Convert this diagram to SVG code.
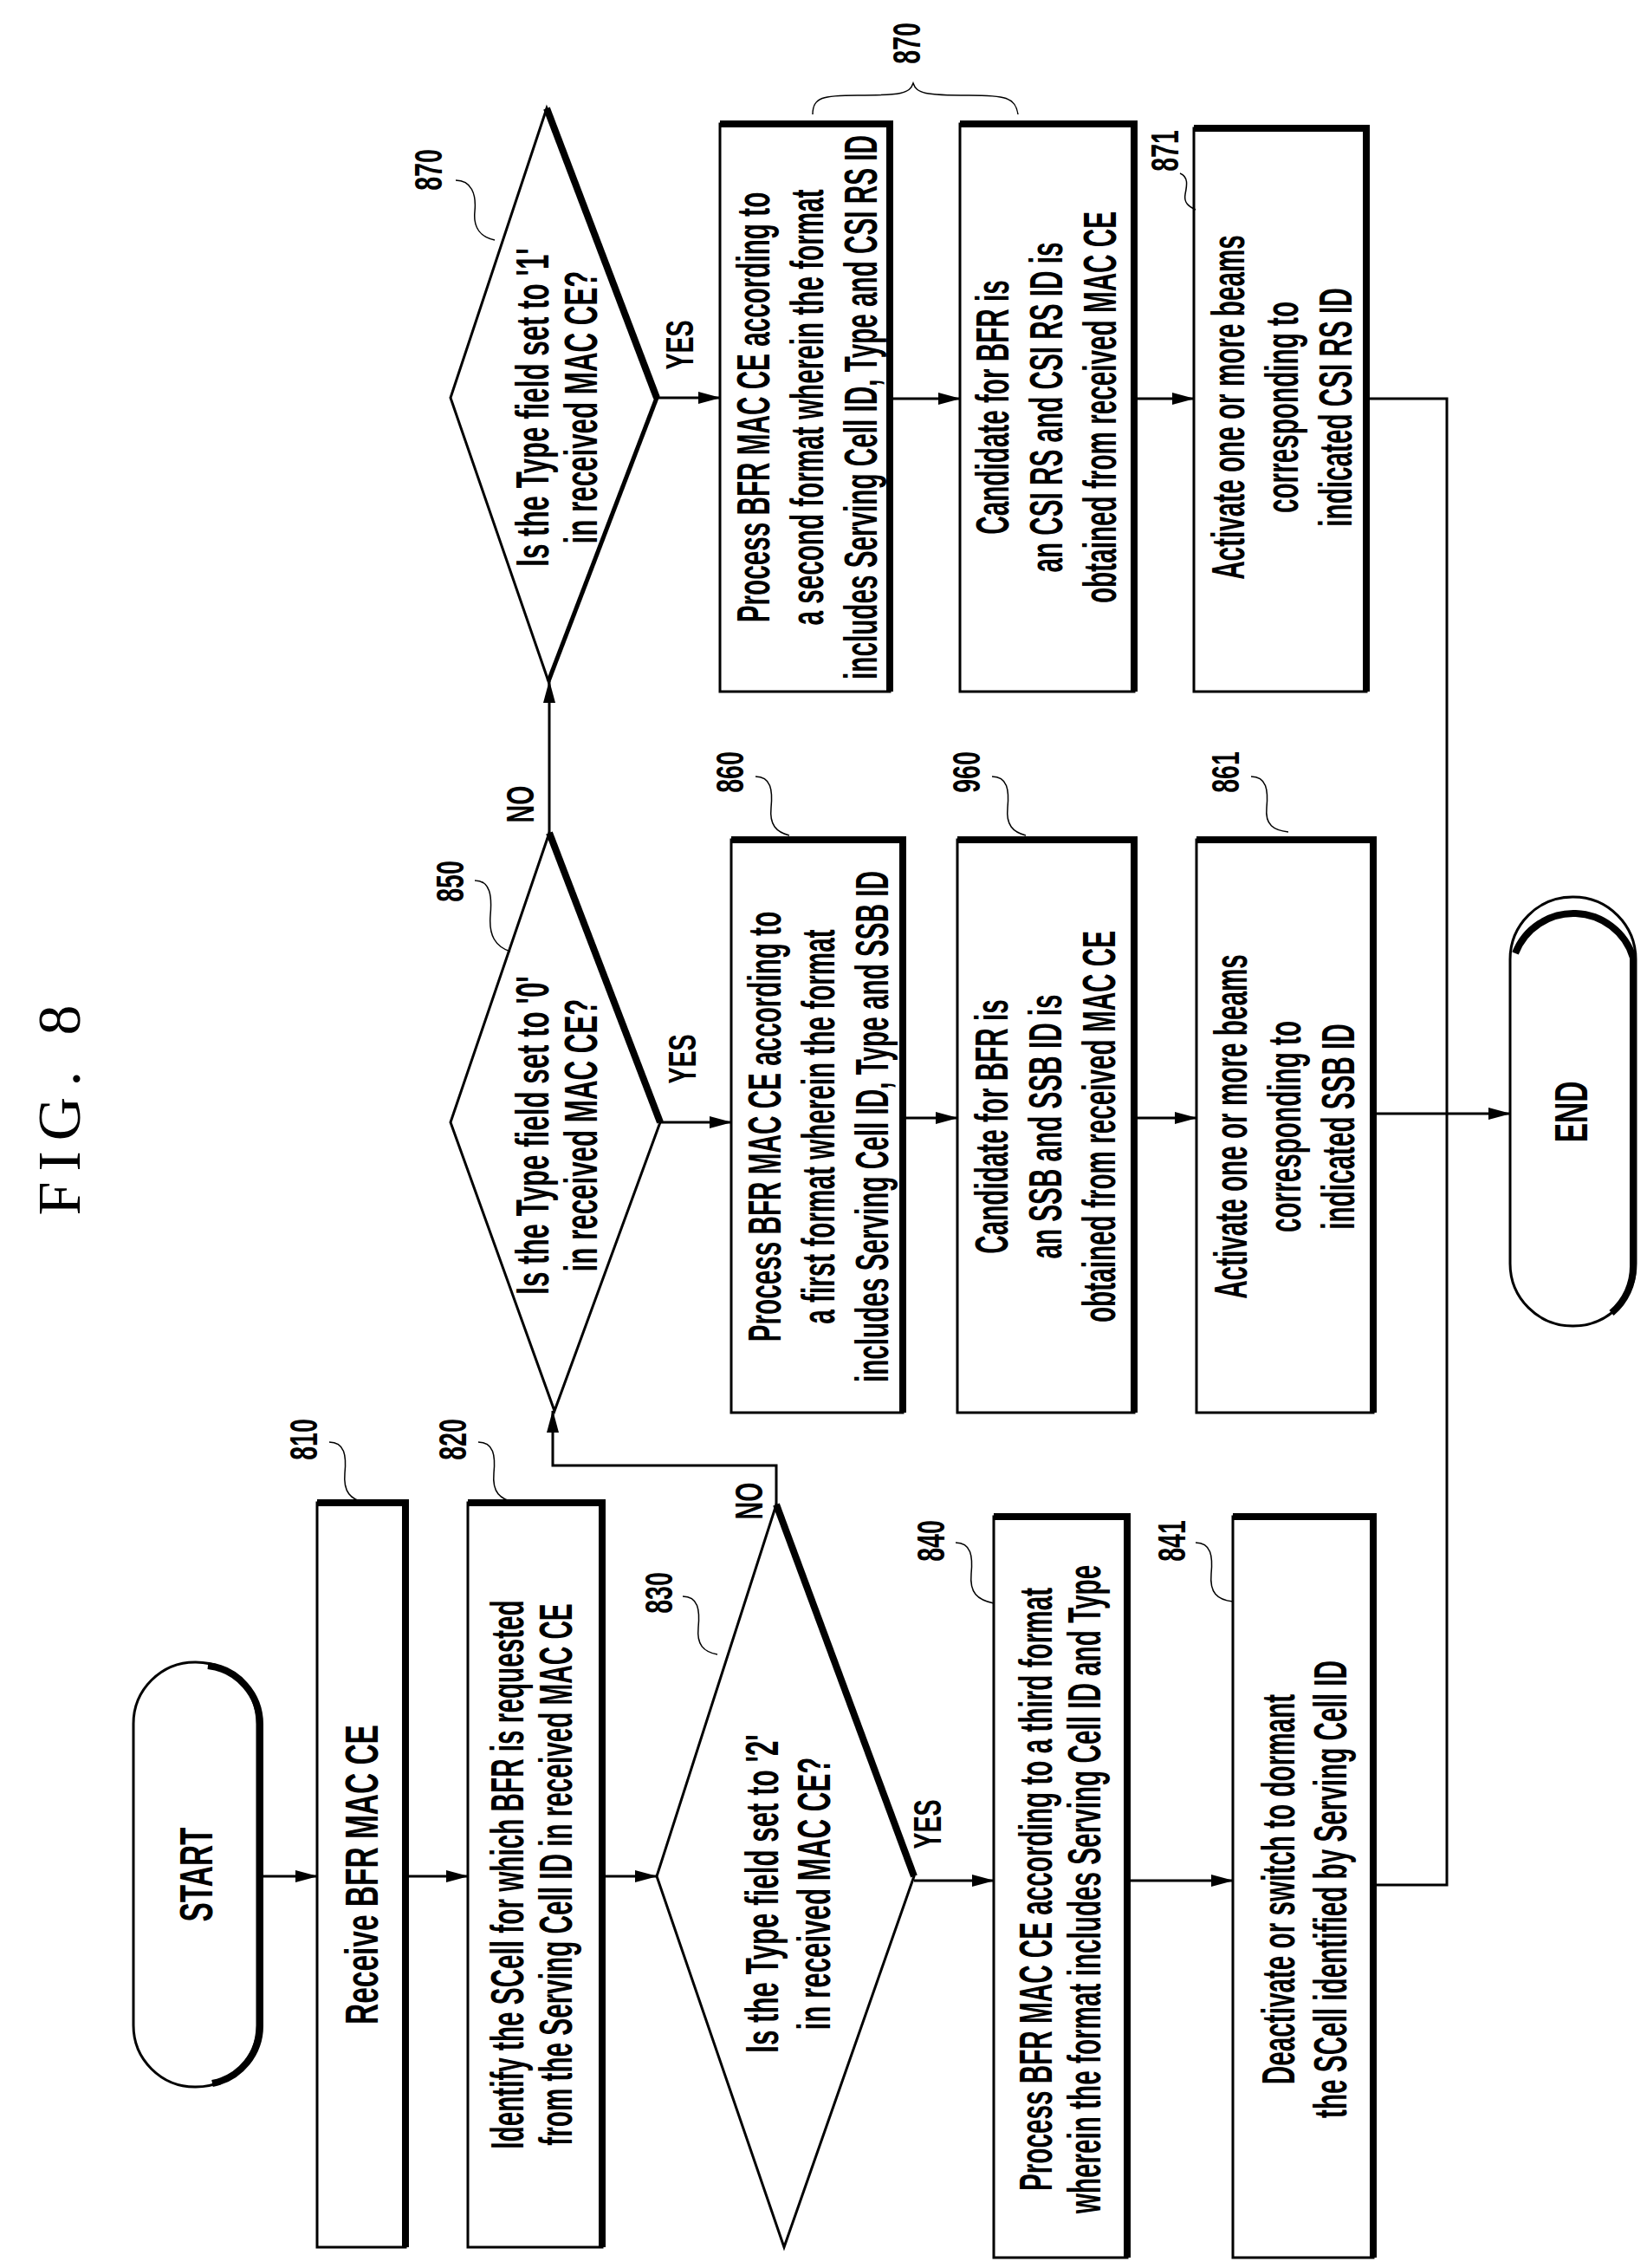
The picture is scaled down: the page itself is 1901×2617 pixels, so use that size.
<svg xmlns="http://www.w3.org/2000/svg" width="1901" height="2617" viewBox="0 0 1901 2617">
<style>
.t{font-family:"Liberation Sans Narrow","Liberation Sans",Arial,sans-serif;font-weight:bold;font-size:54px;fill:#000;text-anchor:middle}
.l{font-family:"Liberation Sans Narrow","Liberation Sans",Arial,sans-serif;font-weight:bold;font-size:44px;fill:#000;text-anchor:middle}
.b{fill:#fff;stroke:#000;stroke-width:3}
.s{fill:none;stroke:#000;stroke-width:8;stroke-linejoin:miter}
.c{fill:none;stroke:#000;stroke-width:3}
.ld{fill:none;stroke:#000;stroke-width:1.5}
</style>
<defs>
<marker id="a" markerWidth="26" markerHeight="16" refX="25" refY="8" orient="auto" markerUnits="userSpaceOnUse"><path d="M0,1 L26,8 L0,15 Z" fill="#000"/></marker>
</defs>
<rect width="1901" height="2617" fill="#fff"/>
<text transform="translate(92,1275) rotate(-90)" font-family="Liberation Serif,serif" font-size="70" letter-spacing="12" text-anchor="middle">FIG. 8</text>

<g id="connectors" class="c">
<path d="M300,2165 H366" marker-end="url(#a)"/>
<path d="M468,2165 H540" marker-end="url(#a)"/>
<path d="M695,2165 H758" marker-end="url(#a)"/>
<path d="M1055,2170 H1147" marker-end="url(#a)"/>
<path d="M1301,2170 H1423" marker-end="url(#a)"/>
<path d="M1585,2175 H1670 V460 H1577"/>
<path d="M896,1736 V1691 H638 V1628" marker-end="url(#a)"/>
<path d="M762,1295 H844" marker-end="url(#a)"/>
<path d="M1042,1290 H1105" marker-end="url(#a)"/>
<path d="M1309,1290 H1381" marker-end="url(#a)"/>
<path d="M1585,1285 H1743" marker-end="url(#a)"/>
<path d="M634,961 V786" marker-end="url(#a)"/>
<path d="M758,459 H831" marker-end="url(#a)"/>
<path d="M1027,460 H1108" marker-end="url(#a)"/>
<path d="M1309,460 H1378" marker-end="url(#a)"/>
</g>
<g id="edge-labels">
<text class="l" transform="translate(880,1732) rotate(-90) scale(0.65,1)">NO</text>
<text class="l" transform="translate(1086,2105) rotate(-90) scale(0.65,1)">YES</text>
<text class="l" transform="translate(616,928) rotate(-90) scale(0.65,1)">NO</text>
<text class="l" transform="translate(803,1222) rotate(-90) scale(0.65,1)">YES</text>
<text class="l" transform="translate(800,398) rotate(-90) scale(0.65,1)">YES</text>
</g>

<g id="start">
<rect class="b" x="154" y="1918" width="143" height="490" rx="71"/>
<path class="s" d="M240,1922 A68,68 0 0 1 300,1990 V2336 A68,68 0 0 1 245,2404"/>
<text class="t" transform="translate(245,2163) rotate(-90) scale(0.62,1)">START</text>
</g>

<g id="n810">
<rect class="b" x="366" y="1734" width="102" height="859"/>
<path class="s" d="M366,1734 H468 V2593"/>
<text class="t" transform="translate(436,2163) rotate(-90) scale(0.62,1)">Receive BFR MAC CE</text>
<text class="l" transform="translate(366,1661) rotate(-90) scale(0.65,1)">810</text>
<path class="ld" d="M380,1664 C398,1664 400,1680 398,1700 C396,1722 405,1730 421,1734"/>
</g>

<g id="n820">
<rect class="b" x="540" y="1734" width="155" height="859"/>
<path class="s" d="M540,1734 H695 V2593"/>
<text class="t" transform="translate(586,2163) rotate(-90) scale(0.55,1)"><tspan x="0" y="18">Identify the SCell for which BFR is requested</tspan><tspan x="0" y="74">from the Serving Cell ID in received MAC CE</tspan></text>
<text class="l" transform="translate(538,1661) rotate(-90) scale(0.65,1)">820</text>
<path class="ld" d="M552,1664 C570,1664 572,1680 570,1700 C568,1722 577,1730 595,1734"/>
</g>

<g id="n830">
<polygon class="b" points="758,2165 896,1736 1055,2165 905,2593"/>
<path class="s" d="M896,1736 L1055,2165"/>
<text class="t" transform="translate(880,2185) rotate(-90) scale(0.58,1)"><tspan x="0" y="18">Is the Type field set to '2'</tspan><tspan x="0" y="78">in received MAC CE?</tspan></text>
<text class="l" transform="translate(776,1838) rotate(-90) scale(0.65,1)">830</text>
<path class="ld" d="M788,1842 C806,1842 808,1858 806,1878 C804,1898 812,1906 828,1909"/>
</g>

<g id="n840">
<rect class="b" x="1147" y="1750" width="154" height="855"/>
<path class="s" d="M1147,1750 H1301 V2605"/>
<text class="t" transform="translate(1196,2180) rotate(-90) scale(0.55,1)"><tspan x="0" y="18">Process BFR MAC CE according to a third format</tspan><tspan x="0" y="74">wherein the format includes Serving Cell ID and Type</tspan></text>
<text class="l" transform="translate(1090,1778) rotate(-90) scale(0.65,1)">840</text>
<path class="ld" d="M1103,1780 C1121,1780 1123,1796 1121,1816 C1119,1838 1128,1846 1147,1850"/>
</g>

<g id="n841">
<rect class="b" x="1423" y="1750" width="162" height="855"/>
<path class="s" d="M1423,1750 H1585 V2605"/>
<text class="t" transform="translate(1476,2180) rotate(-90) scale(0.55,1)"><tspan x="0" y="18">Deactivate or switch to dormant</tspan><tspan x="0" y="78">the SCell identified by Serving Cell ID</tspan></text>
<text class="l" transform="translate(1368,1778) rotate(-90) scale(0.65,1)">841</text>
<path class="ld" d="M1380,1780 C1398,1780 1400,1796 1398,1816 C1396,1838 1405,1846 1423,1848"/>
</g>

<g id="n850">
<polygon class="b" points="520,1295 634,961 762,1295 640,1628"/>
<path class="s" d="M634,961 L762,1295"/>
<text class="t" transform="translate(615,1310) rotate(-90) scale(0.58,1)"><tspan x="0" y="18">Is the Type field set to '0'</tspan><tspan x="0" y="74">in received MAC CE?</tspan></text>
<text class="l" transform="translate(535,1017) rotate(-90) scale(0.65,1)">850</text>
<path class="ld" d="M548,1016 C566,1016 568,1034 566,1056 C564,1080 572,1092 589,1098"/>
</g>

<g id="n860">
<rect class="b" x="844" y="969" width="198" height="661"/>
<path class="s" d="M844,969 H1042 V1630"/>
<text class="t" transform="translate(883,1300) rotate(-90) scale(0.55,1)"><tspan x="0" y="18">Process BFR MAC CE according to</tspan><tspan x="0" y="80">a first format wherein the format</tspan><tspan x="0" y="142">includes Serving Cell ID, Type and SSB ID</tspan></text>
<text class="l" transform="translate(858,891) rotate(-90) scale(0.65,1)">860</text>
<path class="ld" d="M872,896 C890,896 892,912 890,932 C888,952 896,960 911,964"/>
</g>

<g id="n960">
<rect class="b" x="1105" y="969" width="204" height="661"/>
<path class="s" d="M1105,969 H1309 V1630"/>
<text class="t" transform="translate(1145,1300) rotate(-90) scale(0.55,1)"><tspan x="0" y="18">Candidate for BFR is</tspan><tspan x="0" y="80">an SSB and SSB ID is</tspan><tspan x="0" y="142">obtained from received MAC CE</tspan></text>
<text class="l" transform="translate(1131,891) rotate(-90) scale(0.65,1)">960</text>
<path class="ld" d="M1145,896 C1163,896 1165,912 1163,932 C1161,952 1169,960 1184,964"/>
</g>

<g id="n861">
<rect class="b" x="1381" y="969" width="204" height="661"/>
<path class="s" d="M1381,969 H1585 V1630"/>
<text class="t" transform="translate(1421,1300) rotate(-90) scale(0.55,1)"><tspan x="0" y="18">Activate one or more beams</tspan><tspan x="0" y="80">corresponding to</tspan><tspan x="0" y="142">indicated SSB ID</tspan></text>
<text class="l" transform="translate(1430,891) rotate(-90) scale(0.65,1)">861</text>
<path class="ld" d="M1444,896 C1462,896 1464,912 1462,932 C1460,952 1470,958 1487,960"/>
</g>

<g id="end">
<rect class="b" x="1743" y="1035" width="145" height="495" rx="72"/>
<path class="s" d="M1749,1100 A72,72 0 0 1 1885,1105 V1460 A70,70 0 0 1 1860,1515"/>
<text class="t" transform="translate(1832,1283) rotate(-90) scale(0.62,1)">END</text>
</g>

<g id="n870d">
<polygon class="b" points="520,459 631,125 758,459 633,786"/>
<path class="s" d="M631,125 L758,459"/>
<path fill="none" stroke="#000" stroke-width="5" d="M758,459 L633,786"/>
<text class="t" transform="translate(615,470) rotate(-90) scale(0.58,1)"><tspan x="0" y="18">Is the Type field set to '1'</tspan><tspan x="0" y="74">in received MAC CE?</tspan></text>
<text class="l" transform="translate(510,196) rotate(-90) scale(0.65,1)">870</text>
<path class="ld" d="M526,208 C544,208 550,224 548,244 C546,264 556,274 571,277"/>
</g>

<g id="n870p">
<rect class="b" x="831" y="143" width="196" height="655"/>
<path class="s" d="M831,143 H1027 V798"/>
<text class="t" transform="translate(870,470) rotate(-90) scale(0.55,1)"><tspan x="0" y="18">Process BFR MAC CE according to</tspan><tspan x="0" y="80">a second format wherein the format</tspan><tspan x="0" y="142">includes Serving Cell ID, Type and CSI RS ID</tspan></text>
</g>

<g id="n870c">
<rect class="b" x="1108" y="143" width="201" height="655"/>
<path class="s" d="M1108,143 H1309 V798"/>
<text class="t" transform="translate(1146,470) rotate(-90) scale(0.55,1)"><tspan x="0" y="18">Candidate for BFR is</tspan><tspan x="0" y="80">an CSI RS and CSI RS ID is</tspan><tspan x="0" y="142">obtained from received MAC CE</tspan></text>
</g>

<g id="brace870">
<path class="ld" d="M938,132 C938,112 950,110 990,110 C1040,110 1050,108 1054,96 C1058,108 1068,110 1118,110 C1160,110 1172,112 1175,132"/>
<text class="l" transform="translate(1062,50) rotate(-90) scale(0.65,1)">870</text>
</g>

<g id="n871">
<rect class="b" x="1378" y="148" width="199" height="650"/>
<path class="s" d="M1378,148 H1577 V798"/>
<text class="t" transform="translate(1418,470) rotate(-90) scale(0.55,1)"><tspan x="0" y="18">Activate one or more beams</tspan><tspan x="0" y="80">corresponding to</tspan><tspan x="0" y="142">indicated CSI RS ID</tspan></text>
<text class="l" transform="translate(1360,174) rotate(-90) scale(0.65,1)">871</text>
<path class="ld" d="M1362,200 C1372,204 1370,214 1368,224 C1366,234 1372,238 1380,242"/>
</g>
</svg>
